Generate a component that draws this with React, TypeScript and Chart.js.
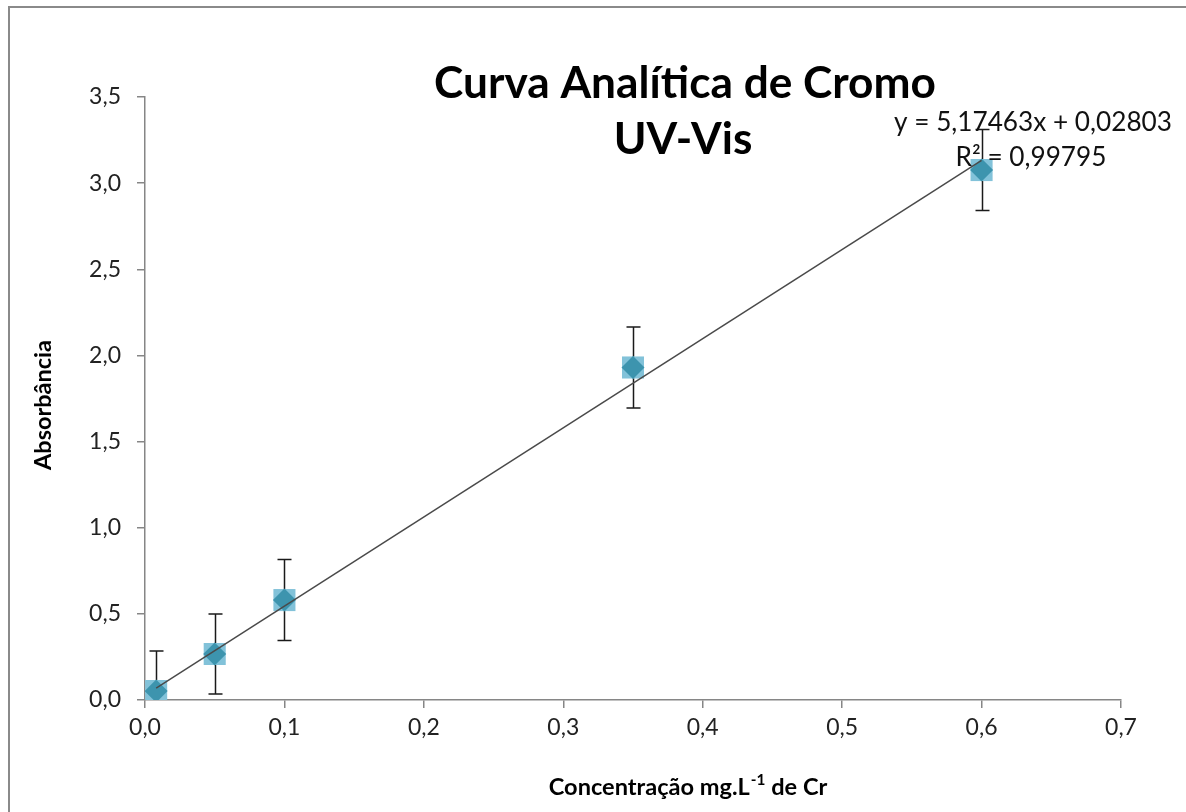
import React, { useEffect, useRef } from "react";
import { Chart, registerables } from "chart.js";

Chart.register(...registerables);

// Calibration standards: concentration (mg/L Cr) vs. measured absorbance
const concentrations = [0.008, 0.05, 0.1, 0.35, 0.6];
const absorbances = [0.052, 0.267, 0.58, 1.93, 3.076];
const errorHalfWidths = [0.232, 0.232, 0.235, 0.235, 0.235];

// Linear regression reported on the chart
const slope = 5.17463;
const intercept = 0.02803;
const rSquared = "0,99795";

const xTicks = [0, 0.1, 0.2, 0.3, 0.4, 0.5, 0.6, 0.7];
const yTicks = [0, 0.5, 1.0, 1.5, 2.0, 2.5, 3.0, 3.5];

const titleLines = ["Curva Analítica de Cromo", "UV-Vis"];
const yAxisTitle = "Absorbância";

const FONT = "Lato, 'Open Sans', sans-serif";
const fmt = (v: number) => v.toFixed(1).replace(".", ",");

const W = 1186;
const H = 812;

// font size that makes `text` span `width` pixels
function fitSize(ctx: CanvasRenderingContext2D, text: string, weight: string, width: number) {
  ctx.font = `${weight} 100px ${FONT}`;
  return (100 * width) / ctx.measureText(text).width;
}

const decorPlugin = {
  id: "decor",
  beforeDatasetsDraw(chart: any) {
    const { ctx, scales } = chart;
    const xs = scales.x;
    const ys = scales.y;
    // error bars
    ctx.save();
    ctx.strokeStyle = "#1a1a1a";
    ctx.lineWidth = 1.5;
    concentrations.forEach((c, i) => {
      const px = Math.round(xs.getPixelForValue(c)) + 0.5;
      const top = ys.getPixelForValue(absorbances[i] + errorHalfWidths[i]);
      const bot = ys.getPixelForValue(Math.max(0, absorbances[i] - errorHalfWidths[i]));
      ctx.beginPath();
      ctx.moveTo(px, top);
      ctx.lineTo(px, bot);
      ctx.moveTo(px - 7, top);
      ctx.lineTo(px + 7, top);
      if (absorbances[i] - errorHalfWidths[i] > 0) {
        ctx.moveTo(px - 7, bot);
        ctx.lineTo(px + 7, bot);
      }
      ctx.stroke();
    });
    ctx.restore();
  },
  afterDraw(chart: any) {
    const { ctx } = chart;
    ctx.save();
    // outer frame
    ctx.strokeStyle = "#8a8a8a";
    ctx.lineWidth = 2;
    ctx.beginPath();
    ctx.moveTo(9, H + 10);
    ctx.lineTo(9, 7);
    ctx.lineTo(W + 10, 7);
    ctx.stroke();

    ctx.fillStyle = "#000";
    ctx.textAlign = "center";
    ctx.textBaseline = "middle";
    // title
    const tSize = fitSize(ctx, titleLines[0], "bold", 502);
    ctx.font = `bold ${tSize}px ${FONT}`;
    ctx.fillText(titleLines[0], 685, 84);
    ctx.fillText(titleLines[1], 683, 140);

    // regression label
    const eq = `y = ${slope.toString().replace(".", ",")}x + ${intercept.toFixed(5).replace(".", ",")}`;
    const eSize = fitSize(ctx, eq, "normal", 278);
    ctx.font = `${eSize}px ${FONT}`;
    ctx.fillStyle = "#111";
    ctx.fillText(eq, 1033, 123);
    ctx.fillText(`R² = ${rSquared}`, 1031, 158);

    // y axis title
    ctx.fillStyle = "#000";
    const ySize = fitSize(ctx, yAxisTitle, "bold", 130);
    ctx.font = `bold ${ySize}px ${FONT}`;
    ctx.save();
    ctx.translate(43, 405);
    ctx.rotate(-Math.PI / 2);
    ctx.fillText(yAxisTitle, 0, 0);
    ctx.restore();

    // x axis title with superscript
    const partA = "Concentração mg.L";
    const sup = "-1";
    const partB = " de Cr";
    const xSize = fitSize(ctx, partA + sup + partB, "bold", 284);
    const supSize = xSize * 0.65;
    ctx.font = `bold ${xSize}px ${FONT}`;
    const wA = ctx.measureText(partA).width;
    const wB = ctx.measureText(partB).width;
    ctx.font = `bold ${supSize}px ${FONT}`;
    const wS = ctx.measureText(sup).width;
    const total = wA + wS + wB + 1;
    const x0 = 688 - total / 2;
    ctx.textAlign = "left";
    ctx.font = `bold ${xSize}px ${FONT}`;
    ctx.fillText(partA, x0, 787);
    ctx.font = `bold ${supSize}px ${FONT}`;
    ctx.fillText(sup, x0 + wA + 1, 780);
    ctx.font = `bold ${xSize}px ${FONT}`;
    ctx.fillText(partB, x0 + wA + wS + 1, 787);
    ctx.restore();
  },
};

export default function App() {
  const ref = useRef<HTMLCanvasElement>(null);

  useEffect(() => {
    if (!ref.current) return;
    const points = concentrations.map((c, i) => ({ x: c, y: absorbances[i] }));
    const xFirst = concentrations[0];
    const xLast = concentrations[concentrations.length - 1];
    const trend = [
      { x: xFirst, y: slope * xFirst + intercept },
      { x: xLast, y: slope * xLast + intercept },
    ];
    const chart = new Chart(ref.current, {
      type: "scatter",
      data: {
        datasets: [
          {
            type: "line",
            data: trend,
            borderColor: "#4a4a4a",
            borderWidth: 1.5,
            pointRadius: 0,
            fill: false,
            order: 0,
          },
          {
            data: points,
            pointStyle: "rectRot",
            pointRadius: 11.5,
            backgroundColor: "#3d94ae",
            borderWidth: 0,
            order: 1,
          },
          {
            data: points,
            pointStyle: "rect",
            pointRadius: 15.6,
            backgroundColor: "#82c2d9",
            borderWidth: 0,
            order: 2,
          },
        ] as any,
      },
      options: {
        animation: false,
        responsive: false,
        events: [],
        layout: { padding: { left: 0, top: 97, right: 65, bottom: 0 } },
        plugins: {
          legend: { display: false },
          tooltip: { enabled: false },
          title: { display: false },
        },
        scales: {
          x: {
            type: "linear",
            min: 0,
            max: 0.7,
            afterFit: (s: any) => {
              s.height = 112;
            },
            afterBuildTicks: (s: any) => {
              s.ticks = xTicks.map((v) => ({ value: v }));
            },
            border: { color: "#868686", width: 1.5 },
            grid: { drawOnChartArea: false, drawTicks: true, tickLength: 8, color: "#868686", lineWidth: 1.5 },
            ticks: {
              padding: 6,
              color: "#222",
              font: { family: FONT, size: 23 },
              maxRotation: 0,
              callback: (v: any) => fmt(Number(v)),
            },
          },
          y: {
            type: "linear",
            min: 0,
            max: 3.5,
            afterFit: (s: any) => {
              s.width = 145;
            },
            afterBuildTicks: (s: any) => {
              s.ticks = yTicks.map((v) => ({ value: v }));
            },
            border: { color: "#868686", width: 1.5 },
            grid: { drawOnChartArea: false, drawTicks: true, tickLength: 8, color: "#868686", lineWidth: 1.5 },
            ticks: {
              padding: 16,
              color: "#222",
              font: { family: FONT, size: 23 },
              callback: (v: any) => fmt(Number(v)),
            },
          },
        },
      },
      plugins: [decorPlugin],
    });
    return () => chart.destroy();
  }, []);

  return (
    <div style={{ position: "fixed", left: 0, top: 0, width: W, height: H, background: "#fff" }}>
      <canvas ref={ref} width={W} height={H} style={{ width: W, height: H, display: "block" }} />
    </div>
  );
}
